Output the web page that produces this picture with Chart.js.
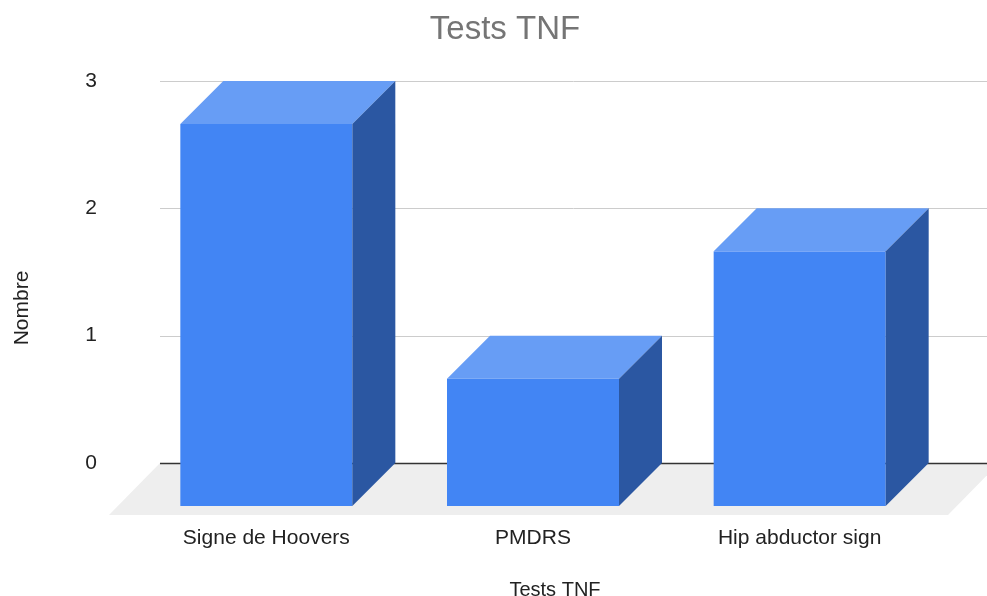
<!DOCTYPE html>
<html><head><meta charset="utf-8">
<script src="https://cdn.jsdelivr.net/npm/chart.js@4.4.1/dist/chart.umd.min.js"></script>
<style>html,body{margin:0;padding:0;background:#fff;overflow:hidden}#wrap{width:987px;height:596px;position:relative}</style>
</head><body><div id="wrap"><canvas id="c"></canvas></div>
<script>
const categories = ["Signe de Hoovers", "PMDRS", "Hip abductor sign"];
const counts = [3, 1, 2];
const yTicks = [0, 1, 2, 3];
const chartTitle = "Tests TNF";
const xTitle = "Tests TNF";
const yTitle = "Nombre";

const FONT = '"Liberation Sans", Arial, Helvetica, sans-serif';
const DEPTH = 43;
const COLORS = {front:'#4285F4', top:'#679DF5', side:'#2B57A2', floor:'#EEEEEE', grid:'#CCCCCC', zero:'#333333', text:'#222222', title:'#757575'};

const plugin3d = {
  id: 'bars3d',
  beforeDatasetsDraw(chart) {
    const {ctx, chartArea: a, scales: {y}} = chart;
    const y0 = y.getPixelForValue(0);
    ctx.save();
    ctx.fillStyle = COLORS.floor;
    ctx.beginPath();
    ctx.moveTo(a.left + 27, y0);
    ctx.lineTo(a.right + 66, y0);
    ctx.lineTo(a.right + 15, y0 + 52);
    ctx.lineTo(a.left - 24, y0 + 52);
    ctx.closePath();
    ctx.fill();
    yTicks.forEach(v => {
      const py = Math.round(y.getPixelForValue(v)) + 0.5;
      ctx.strokeStyle = v === 0 ? COLORS.zero : COLORS.grid;
      ctx.lineWidth = v === 0 ? 1.5 : 1;
      ctx.beginPath();
      ctx.moveTo(a.left + 27, py);
      ctx.lineTo(chart.width, py);
      ctx.stroke();
    });
    ctx.restore();
  },
  afterDatasetsDraw(chart) {
    const {ctx, scales: {y}} = chart;
    const meta = chart.getDatasetMeta(0);
    const y0 = y.getPixelForValue(0);
    ctx.save();
    meta.data.forEach((bar, i) => {
      const {x, width} = bar.getProps(['x', 'width'], true);
      const xl = x - width / 2, xr = x + width / 2;
      const yt = y.getPixelForValue(counts[i]);
      ctx.fillStyle = COLORS.front;
      ctx.fillRect(xl, yt + DEPTH, width, y0 - yt);
      ctx.fillStyle = COLORS.top;
      ctx.beginPath();
      ctx.moveTo(xl, yt + DEPTH); ctx.lineTo(xl + DEPTH, yt); ctx.lineTo(xr + DEPTH, yt); ctx.lineTo(xr, yt + DEPTH);
      ctx.closePath(); ctx.fill();
      ctx.fillStyle = COLORS.side;
      ctx.beginPath();
      ctx.moveTo(xr, yt + DEPTH); ctx.lineTo(xr + DEPTH, yt); ctx.lineTo(xr + DEPTH, y0); ctx.lineTo(xr, y0 + DEPTH);
      ctx.closePath(); ctx.fill();
    });
    ctx.restore();
  },
  afterDraw(chart) {
    const ctx = chart.ctx;
    ctx.save();
    ctx.textBaseline = 'alphabetic';
    ctx.textAlign = 'center';
    ctx.fillStyle = COLORS.title;
    ctx.font = '33px ' + FONT;
    ctx.fillText(chartTitle, 505, 39);
    ctx.fillStyle = COLORS.text;
    ctx.font = '20px ' + FONT;
    ctx.fillText(xTitle, 555, 596);
    ctx.translate(28, 308);
    ctx.rotate(-Math.PI / 2);
    ctx.font = '21px ' + FONT;
    ctx.fillText(yTitle, 0, 0);
    ctx.restore();
  }
};

new Chart(document.getElementById('c'), {
  type: 'bar',
  data: {
    labels: categories,
    datasets: [{
      label: 'Nombre',
      data: counts,
      backgroundColor: 'rgba(0,0,0,0)',
      borderWidth: 0,
      barPercentage: 0.645,
      categoryPercentage: 1
    }]
  },
  options: {
    responsive: true,
    maintainAspectRatio: false,
    animation: false,
    events: [],
    layout: {padding: {left: 9, right: 54, top: 81, bottom: 0}},
    plugins: {legend: {display: false}, title: {display: false}, tooltip: {enabled: false}},
    scales: {
      x: {
        grid: {display: false, drawTicks: false},
        border: {display: false},
        ticks: {color: COLORS.text, font: {family: FONT, size: 21}, padding: 63, maxRotation: 0, autoSkip: false},
        afterFit(scale) { scale.height = 133; }
      },
      y: {
        min: 0, max: 3,
        grid: {display: false, drawTicks: false},
        border: {display: false},
        ticks: {stepSize: 1, color: COLORS.text, font: {family: FONT, size: 21}, padding: 36},
        afterFit(scale) { scale.width = 124; }
      }
    }
  },
  plugins: [plugin3d]
});
</script>
</body></html>
